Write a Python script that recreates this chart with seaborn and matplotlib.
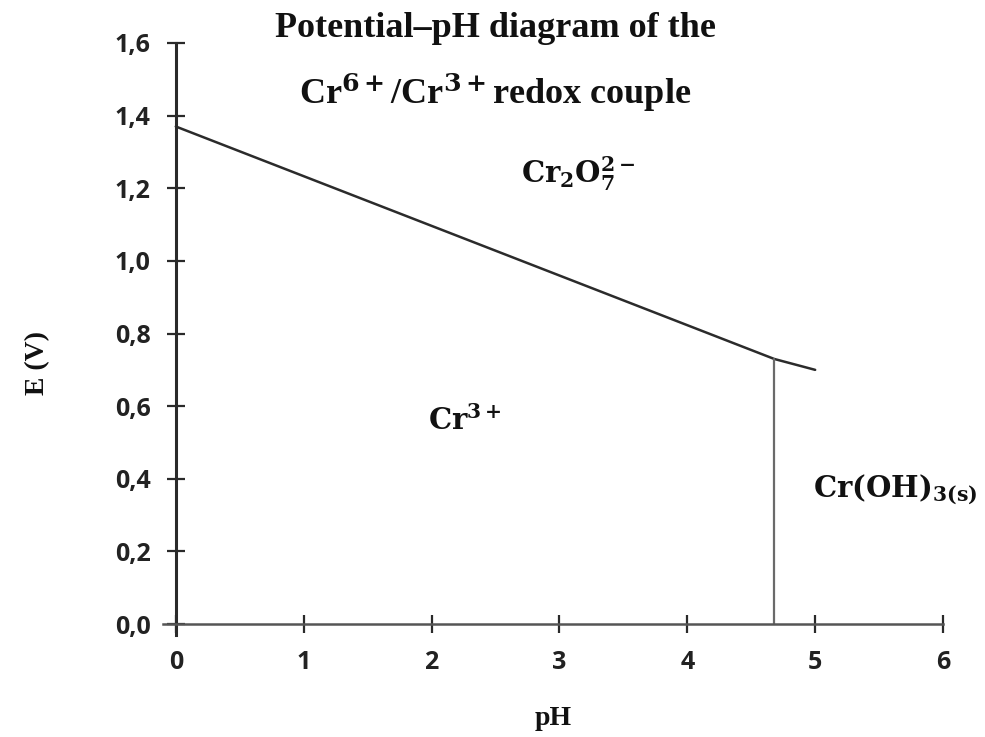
import matplotlib
matplotlib.use("Agg")
import matplotlib.pyplot as plt
import seaborn as sns
import pandas as pd

# Cr(VI)/Cr(III) boundary and Cr(OH)3 precipitation line
ph_redox = [0.0, 4.68, 5.0]
e_redox = [1.37, 0.73, 0.70]
ph_precip = [4.68, 4.68]
e_precip = [0.0, 0.73]

x_ticks = [0, 1, 2, 3, 4, 5, 6]
x_tick_labels = ["0", "1", "2", "3", "4", "5", "6"]
y_ticks = [0.0, 0.2, 0.4, 0.6, 0.8, 1.0, 1.2, 1.4, 1.6]
y_tick_labels = ["0,0", "0,2", "0,4", "0,6", "0,8", "1,0", "1,2", "1,4", "1,6"]

species = [r"$\mathbf{Cr^{3+}}$", r"$\mathbf{Cr_2O_7^{2-}}$", r"$\mathbf{Cr(OH)_{3(s)}}$"]
species_ph = [1.97, 2.7, 4.98]
species_e = [0.56, 1.24, 0.37]

sns.set_theme(style="white")
plt.rcParams["mathtext.fontset"] = "dejavuserif"

fig = plt.figure(figsize=(9.85, 7.37), dpi=100)
ax = fig.add_axes([0.1655, 0.1384, 0.7919, 0.8033])

redox = pd.DataFrame({"pH": ph_redox, "E": e_redox})
precip = pd.DataFrame({"pH": ph_precip, "E": e_precip})
sns.lineplot(data=redox, x="pH", y="E", ax=ax, color="#2b2b2b", lw=1.8,
             sort=False, estimator=None)
sns.lineplot(data=precip, x="pH", y="E", ax=ax, color="#6a6a6a", lw=1.6,
             sort=False, estimator=None)

ax.set_xlim(-0.1, 6.0)
ax.set_ylim(-0.03, 1.6)
for side in ["top", "right"]:
    ax.spines[side].set_visible(False)
ax.spines["left"].set_position(("data", 0))
ax.spines["bottom"].set_position(("data", 0))
ax.spines["left"].set_color("#2a2a2a")
ax.spines["bottom"].set_color("#555555")
ax.spines["left"].set_linewidth(2.2)
ax.spines["bottom"].set_linewidth(1.8)

ax.set_xticks(x_ticks)
ax.set_xticklabels(x_tick_labels)
ax.set_yticks(y_ticks)
ax.set_yticklabels(y_tick_labels)
ax.tick_params(axis="both", which="major", bottom=True, left=True,
               direction="inout", length=13, width=1.6,
               color="#2a2a2a", labelsize=18, labelcolor="#222222")
for lab in ax.get_xticklabels() + ax.get_yticklabels():
    lab.set_fontfamily("Open Sans")
    lab.set_fontweight("bold")
ax.tick_params(axis="x", pad=12)
ax.tick_params(axis="y", pad=11.5)

ax.set_xlabel("pH", fontfamily="Liberation Serif", fontweight="bold",
              fontsize=20, color="#111111", labelpad=0)
ax.xaxis.set_label_coords(0.5, -0.12)
ax.set_ylabel("E (V)", fontfamily="Liberation Serif", fontweight="bold",
              fontsize=20, color="#111111")
ax.yaxis.set_label_coords(-0.145, 0.46)

for txt, px, py in zip(species, species_ph, species_e):
    ax.text(px, py, txt, fontsize=21, color="#111111", ha="left",
            va="center", clip_on=False)

fig.text(0.503, 0.962, "Potential\u2013pH diagram of the", fontfamily="Liberation Serif",
         fontweight="bold", fontsize=26, ha="center", va="center", color="#111111")
fig.text(0.503, 0.875, r"Cr$^{\mathbf{6+}}$/Cr$^{\mathbf{3+}}$redox couple",
         fontfamily="Liberation Serif", fontweight="bold", fontsize=26,
         ha="center", va="center", color="#111111")

fig.savefig("out.png", dpi=100, facecolor="white")
